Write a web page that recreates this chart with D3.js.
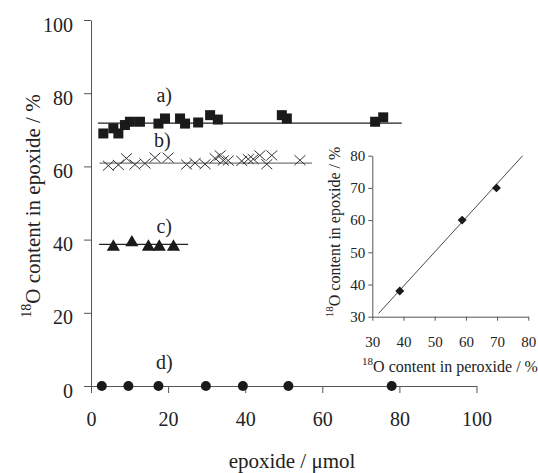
<!DOCTYPE html>
<html>
<head>
<meta charset="utf-8">
<script src="https://d3js.org/d3.v7.min.js"></script>
<style>
  body { margin: 0; background: #fff; }
  svg text { font-family: 'Liberation Serif', 'Times New Roman', Times, 'DejaVu Serif', serif !important; fill: #222; }
</style>
</head>
<body>
<svg id="chart" width="538" height="473"></svg>
<script>
// a) squares
var aX = [3.2, 5.8, 7.1, 8.8, 10.1, 12.7, 17.5, 19.2, 23.1, 24.4, 27.8, 30.9, 32.9, 49.5, 50.8, 73.7, 75.8];
var aY = [69.0, 70.4, 69.0, 71.3, 72.2, 72.2, 71.7, 73.1, 73.1, 71.7, 72.0, 74.0, 72.8, 74.0, 73.1, 72.2, 73.4];
// b) crosses
var bX = [4.5, 7.1, 9.2, 11.4, 14.0, 16.6, 20.0, 24.8, 27.0, 29.6, 32.2, 33.5, 34.3, 35.6, 39.1, 40.8, 42.1, 43.8, 45.6, 46.9, 54.2];
var bY = [60.2, 60.4, 62.2, 60.5, 60.8, 62.4, 62.4, 60.5, 60.9, 60.6, 62.2, 63.0, 61.6, 61.6, 61.5, 62.0, 62.0, 63.0, 60.6, 63.0, 61.7];
// c) triangles
var cX = [5.8, 10.6, 14.9, 17.7, 21.4];
var cY = [38.0, 39.2, 38.0, 38.0, 38.0];
// d) circles
var dX = [2.8, 9.7, 17.5, 29.8, 39.4, 51.2, 78.0];
var dY = [0, 0, 0, 0, 0, 0, 0];

// mean lines for a), b), c)
var meanLevel = [71.8, 60.9, 38.7];
var meanFrom = [1.8, 2.2, 2.1];
var meanTo = [80.6, 57.3, 25.2];

// series labels
var labelText = ["a)", "b)", "c)", "d)"];
var labelX = [19, 18.5, 19, 19];
var labelY = [77.5, 65.3, 41.8, 4.7];

var ticks = [0, 20, 40, 60, 80, 100];

// inset: peroxide vs epoxide
var insetPer = [38.8, 58.8, 69.8];
var insetEpo = [38, 60, 70];
var fitX = [32, 78.2];
var fitY = [31, 80];
var insetTicks = [30, 40, 50, 60, 70, 80];

var serif = "'Liberation Serif', 'Times New Roman', Times, serif";
var svg = d3.select("#chart");

var x = d3.scaleLinear().domain([0, 100]).range([91, 476.5]);
var y = d3.scaleLinear().domain([0, 100]).range([386, 20]);

// axes
var yAxis = svg.append("g")
    .attr("transform", "translate(" + x(0) + ",0)")
    .call(d3.axisLeft(y).tickValues(ticks).tickSize(7).tickSizeOuter(0).tickPadding(11));
yAxis.selectAll("text").attr("dy", "0.55em");

var xAxis = svg.append("g")
    .attr("transform", "translate(0," + y(0) + ")")
    .call(d3.axisBottom(x).tickValues(ticks).tickSize(7).tickSizeOuter(0).tickPadding(19));

svg.selectAll("g").attr("font-family", serif);
svg.selectAll(".domain, .tick line").attr("stroke", "#555");
svg.selectAll(".tick text").attr("font-size", 20).attr("fill", "#222");

// axis titles
var yt = svg.append("text")
    .attr("transform", "translate(37,206) rotate(-90)")
    .attr("text-anchor", "middle")
    .attr("font-family", serif)
    .attr("font-size", 21);
yt.append("tspan").text("18").attr("font-size", 14).attr("dy", "-0.45em");
yt.append("tspan").text("O content in epoxide / %").attr("dy", "0.45em");

svg.append("text")
    .attr("x", 292).attr("y", 468)
    .attr("text-anchor", "middle")
    .attr("font-family", serif)
    .attr("font-size", 21)
    .text("epoxide / \u03bcmol");

// mean lines
svg.selectAll(".mean")
    .data(meanLevel)
    .enter()
    .append("line")
    .attr("x1", function(d, i) { return x(meanFrom[i]); })
    .attr("x2", function(d, i) { return x(meanTo[i]); })
    .attr("y1", function(d) { return y(d); })
    .attr("y2", function(d) { return y(d); })
    .attr("stroke", function(d, i) { return i == 1 ? "#777" : "#222"; })
    .attr("stroke-width", 1.2);

// a) squares
svg.selectAll(".sq")
    .data(aX)
    .enter()
    .append("path")
    .attr("d", d3.symbol().type(d3.symbolSquare).size(100))
    .attr("transform", function(d, i) { return "translate(" + x(d) + "," + y(aY[i]) + ")"; })
    .attr("fill", "#1a1a1a");

// b) crosses
svg.selectAll(".cr")
    .data(bX)
    .enter()
    .append("path")
    .attr("d", "M-5.5,-5L5.5,5M-5.5,5L5.5,-5")
    .attr("transform", function(d, i) { return "translate(" + x(d) + "," + y(bY[i]) + ")"; })
    .attr("stroke", "#333")
    .attr("stroke-width", 1)
    .attr("fill", "none");

// c) triangles
svg.selectAll(".tri")
    .data(cX)
    .enter()
    .append("path")
    .attr("d", d3.symbol().type(d3.symbolTriangle).size(75))
    .attr("transform", function(d, i) { return "translate(" + x(d) + "," + y(cY[i]) + ")"; })
    .attr("fill", "#1a1a1a");

// d) circles
svg.selectAll(".circ")
    .data(dX)
    .enter()
    .append("circle")
    .attr("cx", function(d) { return x(d); })
    .attr("cy", function(d, i) { return y(dY[i]); })
    .attr("r", 5)
    .attr("fill", "#1a1a1a");

// series labels
svg.selectAll(".lab")
    .data(labelText)
    .enter()
    .append("text")
    .attr("x", function(d, i) { return x(labelX[i]); })
    .attr("y", function(d, i) { return y(labelY[i]); })
    .attr("text-anchor", "middle")
    .attr("font-family", serif)
    .attr("font-size", 20)
    .text(function(d) { return d; });

// ---------- inset ----------
var ix = d3.scaleLinear().domain([30, 80]).range([372.3, 528.3]);
var iy = d3.scaleLinear().domain([30, 80]).range([316.7, 155.7]);

var iyAxis = svg.append("g")
    .attr("class", "inset")
    .attr("transform", "translate(" + ix(30) + ",0)")
    .call(d3.axisLeft(iy).tickValues(insetTicks).tickSize(4).tickSizeOuter(0).tickPadding(3));
var ixAxis = svg.append("g")
    .attr("class", "inset")
    .attr("transform", "translate(0," + iy(30) + ")")
    .call(d3.axisBottom(ix).tickValues(insetTicks).tickSize(4).tickSizeOuter(0).tickPadding(16));

svg.selectAll(".inset").attr("font-family", serif);
svg.selectAll(".inset .domain, .inset .tick line").attr("stroke", "#555");
svg.selectAll(".inset .tick text").attr("font-size", 15).attr("fill", "#222");

svg.append("line")
    .attr("x1", ix(fitX[0])).attr("y1", iy(fitY[0]))
    .attr("x2", ix(fitX[1])).attr("y2", iy(fitY[1]))
    .attr("stroke", "#333")
    .attr("stroke-width", 0.9);

svg.selectAll(".dia")
    .data(insetPer)
    .enter()
    .append("path")
    .attr("d", d3.symbol().type(d3.symbolSquare).size(40))
    .attr("transform", function(d, i) { return "translate(" + ix(d) + "," + iy(insetEpo[i]) + ") rotate(45)"; })
    .attr("fill", "#1a1a1a");

var iyt = svg.append("text")
    .attr("transform", "translate(338,232) rotate(-90)")
    .attr("text-anchor", "middle")
    .attr("font-family", serif)
    .attr("font-size", 16);
iyt.append("tspan").text("18").attr("font-size", 11).attr("dy", "-0.45em");
iyt.append("tspan").text("O content in epoxide / %").attr("dy", "0.45em");

var ixt = svg.append("text")
    .attr("x", 450).attr("y", 370)
    .attr("text-anchor", "middle")
    .attr("font-family", serif)
    .attr("font-size", 16);
ixt.append("tspan").text("18").attr("font-size", 11).attr("dy", "-0.45em");
ixt.append("tspan").text("O content in peroxide / %").attr("dy", "0.45em");
</script>
</body>
</html>
